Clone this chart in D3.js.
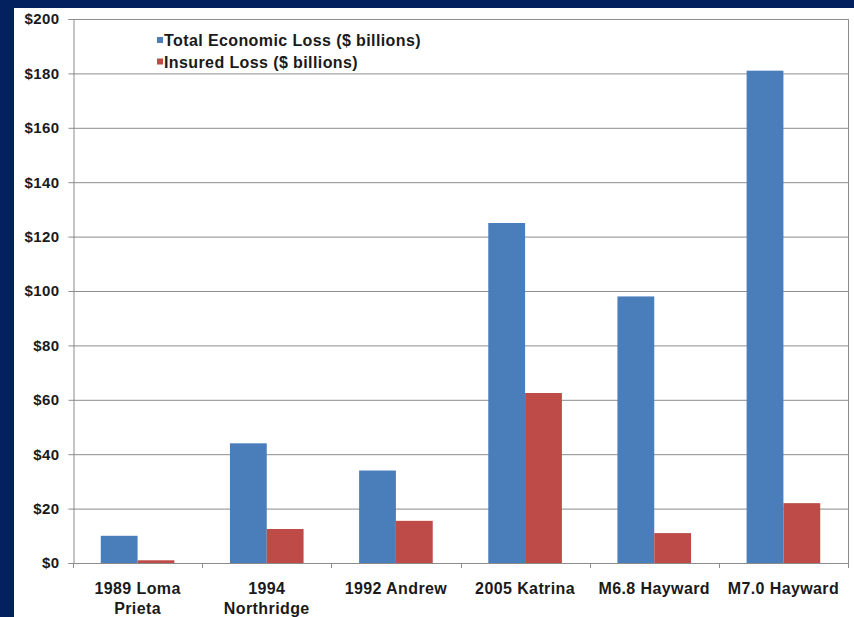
<!DOCTYPE html>
<html>
<head>
<meta charset="utf-8">
<script src="https://cdn.jsdelivr.net/npm/d3@7"></script>
<style>
  html, body { margin: 0; padding: 0; background: #03205f; }
  svg { display: block; }
</style>
</head>
<body>
<svg id="chart" width="854" height="617"></svg>
<script>
var categories = ["1989 Loma|Prieta", "1994|Northridge", "1992 Andrew", "2005 Katrina", "M6.8 Hayward", "M7.0 Hayward"];
var seriesNames = ["Total Economic Loss ($ billions)", "Insured Loss ($ billions)"];
var totalLoss = [10, 44, 34, 125, 98, 181];
var insuredLoss = [1, 12.5, 15.5, 62.5, 11, 22];
var yTicks = [0, 20, 40, 60, 80, 100, 120, 140, 160, 180, 200];

var colors = ["#4a7ebb", "#be4b48"];
var font = "Liberation Sans, Arial, sans-serif";
var svg = d3.select("#chart");

// white slide panel
svg.append("rect")
  .attr("x", 14).attr("y", 8)
  .attr("width", 854 - 14).attr("height", 617 - 8)
  .attr("fill", "#ffffff");

var x0 = 73, x1 = 848, y0 = 563, y1 = 19;

var x = d3.scaleBand().domain(d3.range(categories.length)).range([x0, x1]).paddingInner(0.43).paddingOuter(0.215);
var xSub = d3.scaleBand().domain([0, 1]).range([0, x.bandwidth()]);
var y = d3.scaleLinear().domain([0, 200]).range([y0, y1]);

// gridlines
svg.append("g")
  .selectAll("line").data(yTicks.filter(function(d) { return d > 0 })).enter().append("line")
  .attr("x1", x0).attr("x2", x1)
  .attr("y1", function(d) { return y(d) + 0.5 })
  .attr("y2", function(d) { return y(d) + 0.5 })
  .attr("stroke", "#8c8c8c").attr("stroke-width", 1);

// right border
svg.append("line")
  .attr("x1", x1 + 0.5).attr("x2", x1 + 0.5).attr("y1", y1).attr("y2", y0)
  .attr("stroke", "#8c8c8c");

// bars
var rows = categories.map(function(c, i) { return [totalLoss[i], insuredLoss[i]] });
var groups = svg.append("g").selectAll("g").data(rows).enter().append("g")
  .attr("transform", function(d, i) { return "translate(" + x(i) + ",0)" });
groups.selectAll("rect").data(function(d) { return d }).enter().append("rect")
  .attr("x", function(d, j) { return xSub(j) })
  .attr("width", xSub.bandwidth())
  .attr("y", function(d) { return y(d) })
  .attr("height", function(d) { return y0 - y(d) })
  .attr("fill", function(d, j) { return colors[j] });

// y axis
var yAxis = svg.append("g")
  .attr("transform", "translate(" + (x0 + 0.5) + ",0)")
  .call(d3.axisLeft(y).tickValues(yTicks).tickSize(5).tickPadding(9).tickFormat(function(d) { return "$" + d }));
yAxis.select(".domain").attr("stroke", "#8c8c8c");
yAxis.selectAll(".tick line").attr("stroke", "#8c8c8c");
yAxis.selectAll("text")
  .attr("font-family", font)
  .attr("font-size", 15).attr("font-weight", "bold").attr("fill", "#1a1a1a")
  .attr("letter-spacing", 0.4);

// x axis line + ticks between categories
var xAxisG = svg.append("g");
xAxisG.append("line")
  .attr("x1", x0).attr("x2", x1 + 1).attr("y1", y0 + 0.5).attr("y2", y0 + 0.5)
  .attr("stroke", "#8c8c8c");
xAxisG.selectAll("line.tk").data(d3.range(categories.length + 1)).enter().append("line")
  .attr("class", "tk")
  .attr("x1", function(i) { return Math.round(x0 + i * (x1 - x0) / categories.length) + 0.5 })
  .attr("x2", function(i) { return Math.round(x0 + i * (x1 - x0) / categories.length) + 0.5 })
  .attr("y1", y0).attr("y2", y0 + 5)
  .attr("stroke", "#8c8c8c");

var labels = xAxisG.selectAll("text").data(categories).enter().append("text")
  .attr("x", function(d, i) { return x(i) + x.bandwidth() / 2 })
  .attr("y", 594)
  .attr("text-anchor", "middle")
  .attr("font-family", font)
  .attr("font-size", 16).attr("font-weight", "bold").attr("fill", "#1a1a1a")
  .attr("letter-spacing", 0.4);
labels.each(function(d) {
  var t = d3.select(this);
  d.split("|").forEach(function(line, k) {
    t.append("tspan").attr("x", t.attr("x")).attr("dy", k === 0 ? 0 : 20).text(line);
  });
});

// legend
var legend = svg.append("g").attr("transform", "translate(157,46)");
var items = legend.selectAll("g").data(seriesNames).enter().append("g")
  .attr("transform", function(d, i) { return "translate(0," + (i * 21.5) + ")" });
items.append("rect")
  .attr("x", 0).attr("y", -9).attr("width", 6).attr("height", 6)
  .attr("fill", function(d, i) { return colors[i] });
items.append("text")
  .attr("x", 7).attr("y", 0)
  .attr("font-family", font)
  .attr("font-size", 16).attr("font-weight", "bold").attr("fill", "#1a1a1a")
  .attr("letter-spacing", 0.4)
  .text(function(d) { return d });
</script>
</body>
</html>
